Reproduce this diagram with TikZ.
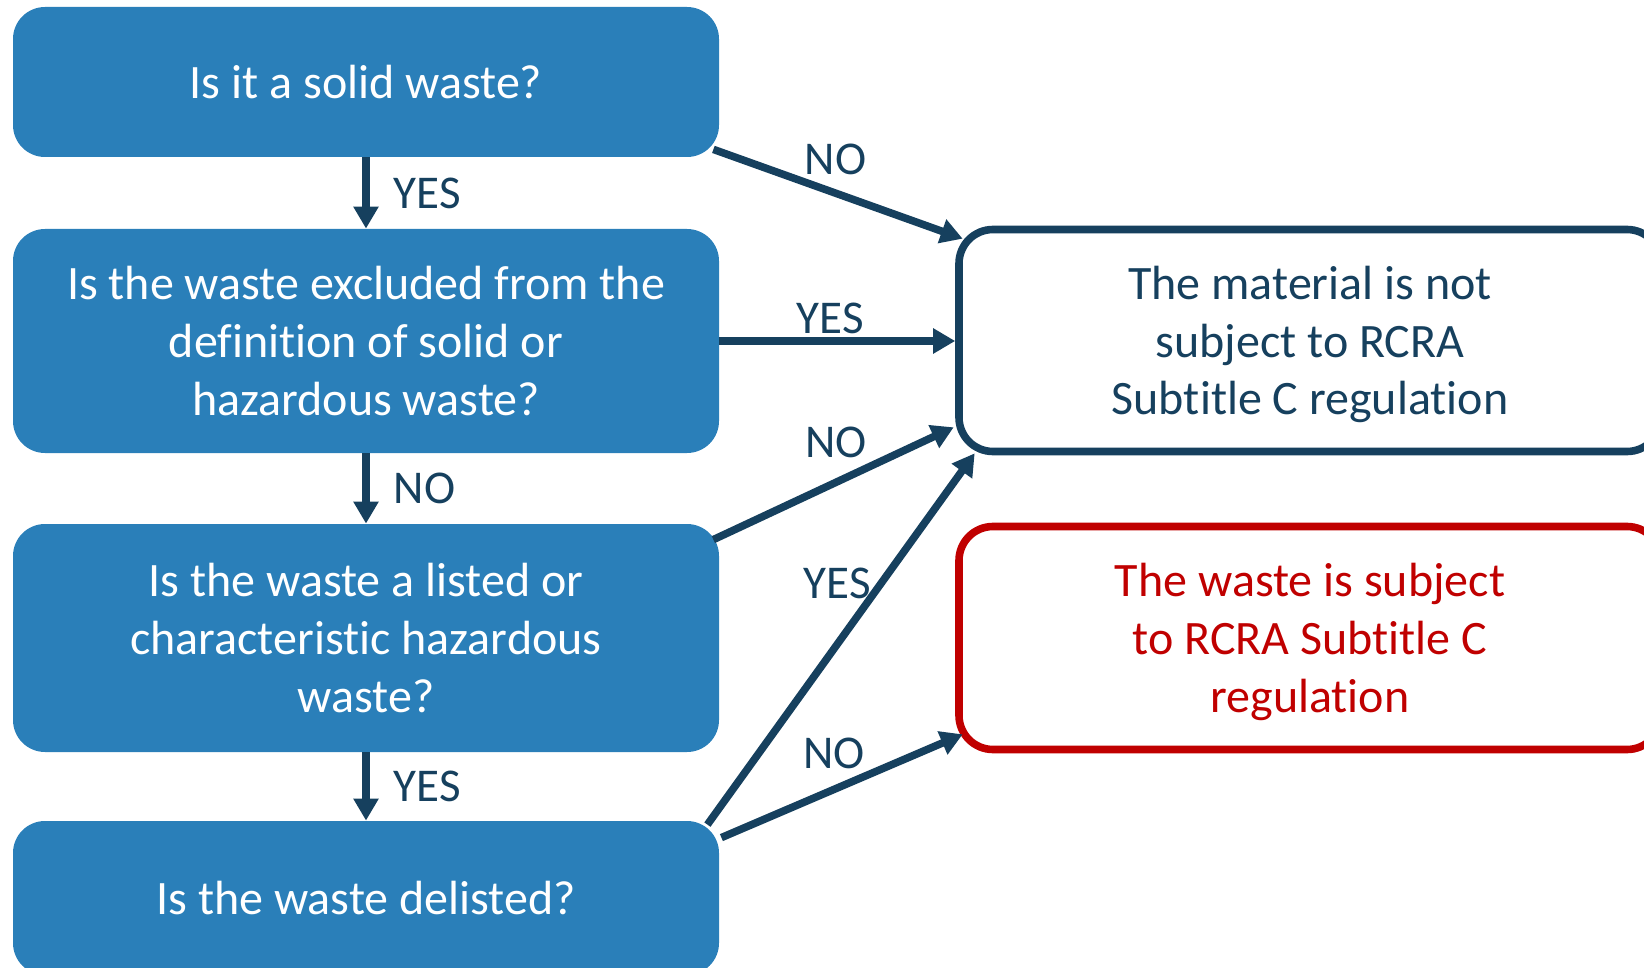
\documentclass[tikz,border=0pt]{standalone}
\usepackage{fontspec}
\setmainfont{Carlito}[Ligatures=NoCommon]
\usetikzlibrary{arrows.meta,positioning,calc}
\definecolor{qblue}{RGB}{42,127,185}
\definecolor{navy}{RGB}{22,64,94}
\definecolor{rcrared}{RGB}{192,0,0}
\tikzset{
  question/.style  = {shape=rectangle, rounded corners=16pt,
                      fill=qblue, text=white, align=center,
                      minimum width=353pt,
                      font=\fontsize{24}{28.85}\selectfont},
  outcome/.style   = {shape=rectangle, rounded corners=17pt,
                      draw=navy, line width=3.8pt, fill=white,
                      text=navy, align=center, minimum width=351pt,
                      font=\fontsize{24}{28.85}\selectfont},
  regulated/.style = {outcome, draw=rcrared, text=rcrared},
  answer/.style    = {font=\fontsize{23.5}{28.85}\selectfont,
                      text=navy, inner sep=0pt},
  link/.style      = {draw=navy, line width=3.8pt}
}

\begin{document}
\begin{tikzpicture}[->,>={Triangle[length=11pt,width=12pt]},x=0.5pt,y=-0.5pt]
\useasboundingbox (0,0) rectangle (1644,968);
% questions
\node [question, minimum height=75pt] (solid) at (366,82) {Is it a solid waste?};
\node [question, minimum height=112pt] (excluded) at (366,341)
  {Is the waste excluded from the\\ definition of solid or\\ hazardous waste?};
\node [question, minimum height=114pt] (listed) at (366,638)
  {Is the waste a listed or\\ characteristic hazardous\\ waste?};
\node [question, minimum height=77pt] (delisted) at (366,898) {Is the waste delisted?};
% outcomes
\node [outcome, minimum height=111pt, text depth=-3pt] (notsubject) at (1310,340.5)
  {The material is not\\ subject to RCRA\\ Subtitle C regulation};
\node [regulated, minimum height=111.5pt, text depth=-3pt] (subject) at (1310,638)
  {The waste is subject\\ to RCRA Subtitle C\\ regulation};
% down the chain
\draw [link] (solid) -- (excluded) node [answer, midway, right=12pt] {YES};
\draw [link] (excluded) -- (listed) node [answer, midway, right=12pt] {NO};
\draw [link] (listed) -- (delisted) node [answer, midway, right=12pt] {YES};
% over to the outcomes
\draw [link] ([shift={(-6,-8)}]solid.south east) -- ([shift={(7.5,13)}]notsubject.north west)
  node [answer, pos=0.49, yshift=17pt] {NO};
\draw [link] (excluded.east) -- (excluded.east -| notsubject.west)
  node [answer, pos=0.47, yshift=11.5pt] {YES};
\draw [link] ([shift={(-6,16)}]listed.north east) -- ([shift={(-1.5,-28)}]notsubject.south west)
  node [answer, pos=0.51, yshift=20pt] {NO};
\draw [link] ([shift={(-12,4)}]delisted.north east) -- ([shift={(19.5,-2)}]notsubject.south west)
  node [answer, pos=0.65, xshift=-22pt] {YES};
\draw [link] ([shift={(2,17)}]delisted.north east) -- ([shift={(7.5,-19)}]subject.south west)
  node [answer, pos=0.467, yshift=18pt] {NO};
\end{tikzpicture}
\end{document}
